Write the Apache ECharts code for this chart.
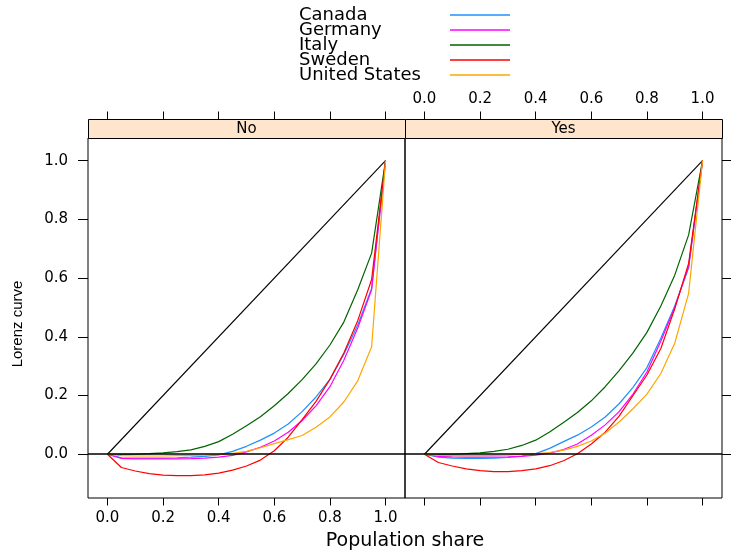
<!DOCTYPE html>
<html><head><meta charset="utf-8">
<script src="https://cdn.jsdelivr.net/npm/echarts@6/dist/echarts.min.js"></script>
<style>html,body{margin:0;padding:0;background:#fff}#c{width:731px;height:550px}</style>
</head><body><div id="c"></div>
<script>
// ---- data ----
const popShare = [0,0.05,0.1,0.15,0.2,0.25,0.3,0.35,0.4,0.45,0.5,0.55,0.6,0.65,0.7,0.75,0.8,0.85,0.9,0.95,1.0];

const canadaNo  = [0,-0.012,-0.013,-0.013,-0.013,-0.012,-0.010,-0.007,-0.002,0.010,0.027,0.048,0.072,0.103,0.145,0.195,0.255,0.340,0.440,0.565,1.0];
const germanyNo = [0,-0.014,-0.016,-0.016,-0.016,-0.016,-0.015,-0.013,-0.010,-0.004,0.008,0.024,0.045,0.075,0.115,0.165,0.230,0.320,0.430,0.560,1.0];
const italyNo   = [0,0,0,0.002,0.005,0.009,0.015,0.027,0.043,0.068,0.097,0.128,0.165,0.207,0.254,0.308,0.372,0.450,0.560,0.685,1.0];
const swedenNo  = [0,-0.045,-0.057,-0.066,-0.071,-0.073,-0.073,-0.070,-0.064,-0.054,-0.040,-0.020,0.012,0.058,0.118,0.180,0.255,0.345,0.455,0.595,1.0];
const usNo      = [0,-0.005,-0.006,-0.006,-0.006,-0.005,-0.004,-0.003,-0.001,0.003,0.010,0.022,0.036,0.050,0.064,0.092,0.127,0.178,0.250,0.366,1.0];

const canadaYes  = [0,-0.010,-0.013,-0.014,-0.014,-0.013,-0.011,-0.006,0.002,0.020,0.043,0.065,0.093,0.127,0.172,0.228,0.295,0.395,0.505,0.635,1.0];
const germanyYes = [0,-0.007,-0.009,-0.010,-0.010,-0.010,-0.009,-0.007,-0.003,0.004,0.016,0.035,0.065,0.100,0.145,0.205,0.280,0.385,0.500,0.640,1.0];
const italyYes   = [0,0,0,0.002,0.005,0.010,0.017,0.030,0.048,0.076,0.108,0.142,0.182,0.230,0.285,0.345,0.415,0.505,0.610,0.747,1.0];
const swedenYes  = [0,-0.028,-0.040,-0.050,-0.056,-0.059,-0.059,-0.056,-0.050,-0.039,-0.022,0.002,0.035,0.075,0.130,0.200,0.270,0.360,0.495,0.650,1.0];
const usYes      = [0,-0.004,-0.005,-0.005,-0.005,-0.004,-0.003,-0.001,0.002,0.006,0.014,0.027,0.045,0.072,0.110,0.155,0.205,0.275,0.378,0.548,1.0];

const countries = ['Canada','Germany','Italy','Sweden','United States'];
const panels = ['No','Yes'];
const diagX = [0,1];
const diagY = [0,1];
const xTicks = [0,0.2,0.4,0.6,0.8,1.0];
const yTicks = [0,0.2,0.4,0.6,0.8,1.0];

// ---- chart ----
const colors = ['#1E90FF','#FF00FF','#006400','#FF0000','#FFA500'];
const panelValues = [
  [canadaNo, germanyNo, italyNo, swedenNo, usNo],
  [canadaYes, germanyYes, italyYes, swedenYes, usYes]
];
const FONT = 'DejaVu Sans';
const gridLeft = [88, 405], gridW = 317, gridTop = 138, gridH = 360, stripH = 19;
const pairs = (xs, ys) => xs.map((x, i) => [x, ys[i]]);
const fmt = v => v.toFixed(1);

const noLine = {show:false, onZero:false};
const xBase = {type:'value', min:-0.07, max:1.07, splitLine:{show:false}, axisLine:noLine};
const yBase = {type:'value', min:-0.149, max:1.077, splitLine:{show:false}, axisLine:noLine};
const tickStyle = {lineStyle:{color:'#000', width:1}};
const lbl = {color:'#000', fontFamily:FONT, fontSize:15};

const xAxis = [
  Object.assign({}, xBase, {gridIndex:0, position:'bottom',
    axisTick:Object.assign({show:true, customValues:xTicks, length:7.5}, tickStyle),
    axisLabel:Object.assign({show:true, customValues:xTicks, formatter:fmt, margin:13}, lbl)}),
  Object.assign({}, xBase, {gridIndex:0, position:'top', offset:stripH,
    axisTick:Object.assign({show:true, customValues:xTicks, length:7.5}, tickStyle),
    axisLabel:{show:false}}),
  Object.assign({}, xBase, {gridIndex:1, position:'bottom',
    axisTick:Object.assign({show:true, customValues:xTicks, length:7.5}, tickStyle),
    axisLabel:{show:false}}),
  Object.assign({}, xBase, {gridIndex:1, position:'top', offset:stripH,
    axisTick:Object.assign({show:true, customValues:xTicks, length:7.5}, tickStyle),
    axisLabel:Object.assign({show:true, customValues:xTicks, formatter:fmt, margin:12}, lbl)})
];
const yAxis = [
  Object.assign({}, yBase, {gridIndex:0, position:'left',
    axisTick:Object.assign({show:true, customValues:yTicks, length:10}, tickStyle),
    axisLabel:Object.assign({show:true, customValues:yTicks, formatter:fmt, margin:20}, lbl)}),
  Object.assign({}, yBase, {gridIndex:1, position:'right',
    axisTick:Object.assign({show:true, customValues:yTicks, length:10}, tickStyle),
    axisLabel:{show:false}})
];

const series = [];
panels.forEach((p, pi) => {
  const xi = pi === 0 ? 0 : 2;
  series.push({
    type:'line', xAxisIndex:xi, yAxisIndex:pi, data:pairs(diagX, diagY),
    symbol:'none', silent:true, lineStyle:{color:'#000', width:1.1},
    markLine:{silent:true, symbol:'none', label:{show:false}, lineStyle:{color:'#000', width:1.6, type:'solid'},
      data:[{yAxis:0}], animation:false}
  });
  countries.forEach((c, ci) => {
    series.push({
      name:c, type:'line', xAxisIndex:xi, yAxisIndex:pi,
      data:pairs(popShare, panelValues[pi][ci]),
      symbol:'none', showSymbol:false, color:colors[ci], lineStyle:{color:colors[ci], width:1.2}
    });
  });
});

const graphic = [];
panels.forEach((p, pi) => {
  graphic.push({type:'rect', left:gridLeft[pi], top:gridTop - stripH, silent:true,
    shape:{width:gridW, height:stripH}, style:{fill:'#FFE5CC', stroke:'#000', lineWidth:1}});
  graphic.push({type:'text', x:gridLeft[pi] + gridW/2, y:gridTop - stripH/2 + 0.5, silent:true,
    style:{text:p, fill:'#000', font:'15px "DejaVu Sans"', align:'center', verticalAlign:'middle'}});
});
graphic.push({type:'text', x:405, y:541, silent:true,
  style:{text:'Population share', fill:'#000', font:'19px "DejaVu Sans"', align:'center', verticalAlign:'middle'}});
graphic.push({type:'text', x:18, y:324, rotation:Math.PI/2, silent:true,
  style:{text:'Lorenz curve', fill:'#000', font:'15px "Liberation Sans"', align:'center', verticalAlign:'middle'}});

const chart = echarts.init(document.getElementById('c'));
chart.setOption({
  animation:false,
  backgroundColor:'#fff',
  grid:[
    {left:gridLeft[0], top:gridTop, width:gridW, height:gridH, show:true, borderColor:'#000', borderWidth:1},
    {left:gridLeft[1], top:gridTop, width:gridW, height:gridH, show:true, borderColor:'#000', borderWidth:1}
  ],
  legend:{
    data:countries, orient:'vertical', left:294, top:1, align:'right',
    icon:'path://M0,0L60,0L60,1.5L0,1.5Z',
    itemWidth:60, itemHeight:15, itemGap:-3, selectedMode:false,
    formatter: n => '{n|' + n + '}',
    textStyle:{color:'#000', fontFamily:FONT, fontSize:18, lineHeight:15,
      rich:{n:{width:146, align:'left', fontFamily:FONT, fontSize:18, lineHeight:15, color:'#000'}}}
  },
  xAxis, yAxis, series, graphic
});
</script></body></html>
